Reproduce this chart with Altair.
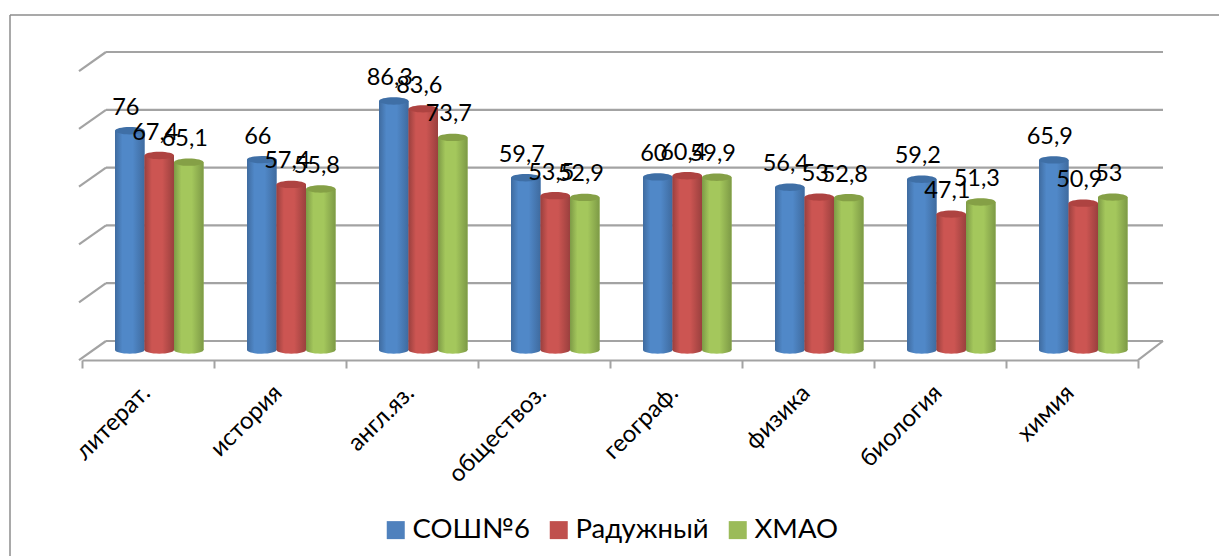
import altair as alt
import pandas as pd

categories = ["литерат.", "история", "англ.яз.", "обществоз.", "географ.", "физика", "биология", "химия"]
series = ["СОШ№6", "Радужный", "ХМАО"]
school = [76, 66, 86.3, 59.7, 60, 56.4, 59.2, 65.9]
town = [67.4, 57.4, 83.6, 53.5, 60.4, 53, 47.1, 50.9]
region = [65.1, 55.8, 73.7, 52.9, 59.9, 52.8, 51.3, 53]
grid_values = [0, 20, 40, 60, 80, 100]

colors = ["#4F81BD", "#C0504D", "#9BBB59"]
edges = ["#3F6B9F", "#9A403E", "#7D9A46"]
lights = ["#5088C8", "#CC5552", "#A4C75C"]
caps = ["#3F6FA6", "#AE4341", "#85A046"]

FONT = "Lato"
GREY = "#A3A3A3"
ELLIPSE = "M-1,0A1,0.25 0 1 1 1,0A1,0.25 0 1 1 -1,0Z"

rows = []
for name, vals in zip(series, [school, town, region]):
    for c, v in zip(categories, vals):
        rows.append({"cat": c, "series": name, "v": v, "label": f"{v:g}".replace(".", ",")})
df = pd.DataFrame(rows)
grid_df = pd.DataFrame({"g": grid_values})

bar_x = alt.X("cat:N", sort=categories, axis=None,
              scale=alt.Scale(domain=categories, range=[85, 1141], paddingInner=0, paddingOuter=0))
bar_off = alt.XOffset("series:N", sort=series,
                      scale=alt.Scale(domain=series, range=[22, 110.5]))
bar_y = alt.Y("v:Q", axis=None, scale=alt.Scale(domain=[0, 100], range=[342, 53.5], nice=False))
grid_y = alt.Y("g:Q", axis=None, scale=alt.Scale(domain=[0, 100], range=[333, 44], nice=False))

layers = []

# frame
layers.append(alt.Chart(grid_df.head(1)).mark_rule(color="#8C8C8C", strokeWidth=1.5).encode(
    x=alt.value(2), x2=alt.value(1211), y=alt.value(7)))
layers.append(alt.Chart(grid_df.head(1)).mark_rule(color="#8C8C8C", strokeWidth=1.5).encode(
    x=alt.value(2), y=alt.value(7), y2=alt.value(548)))

# back wall gridlines
layers.append(alt.Chart(grid_df).mark_rule(color=GREY, strokeWidth=2.2).encode(
    y=grid_y, x=alt.value(98), x2=alt.value(1155)))
# left wall
layers.append(alt.Chart(grid_df).transform_calculate(front="datum.g - 6.6").mark_rule(color=GREY, strokeWidth=2.2).encode(
    y=grid_y, y2="front:Q", x=alt.value(98), x2=alt.value(71)))
# right floor edge
layers.append(alt.Chart(grid_df.head(1)).transform_calculate(front="datum.g - 6.6").mark_rule(color=GREY, strokeWidth=2.2).encode(
    y=grid_y, y2="front:Q", x=alt.value(1155), x2=alt.value(1130)))

# category axis on the front edge of the floor
layers.append(alt.Chart(df).mark_rule(opacity=0).encode(
    x=alt.X("cat:N", sort=categories,
            scale=alt.Scale(domain=categories, range=[74, 1130], paddingInner=0, paddingOuter=0),
            axis=alt.Axis(title=None, tickBand="extent", tickSize=8, tickWidth=2, tickColor=GREY,
                          domainColor=GREY, domainWidth=2.2, labelAngle=-45, labelAlign="right",
                          labelBaseline="middle", labelFont=FONT, labelFontSize=24, labelColor="black",
                          labelOffset=-2, labelPadding=21, grid=False))))

# flat bars carrying the legend
layers.append(alt.Chart(df).mark_bar().encode(
    x=bar_x, xOffset=bar_off, y=bar_y,
    color=alt.Color("series:N", sort=series,
                    scale=alt.Scale(domain=series, range=colors),
                    legend=alt.Legend(title=None, orient="none", legendX=374, legendY=508,
                                      direction="horizontal", symbolType="square", symbolSize=324,
                                      symbolStrokeWidth=0, labelFont=FONT, labelFontSize=27.5,
                                      labelColor="black", columnPadding=15, labelOffset=3))))

# cylinders
for name, edge, light, cap in zip(series, edges, lights, caps):
    grad = alt.Gradient(gradient="linear", x1=0, x2=1, y1=0, y2=0,
                        stops=[alt.GradientStop(offset=0, color=edge),
                               alt.GradientStop(offset=0.25, color=light),
                               alt.GradientStop(offset=0.6, color=light),
                               alt.GradientStop(offset=1, color=edge)])
    sub = alt.Chart(df).transform_filter(alt.datum.series == name)
    layers.append(sub.transform_calculate(base="0").mark_point(
        shape=ELLIPSE, size=870, filled=True, opacity=1, color=grad).encode(
        x=bar_x, xOffset=bar_off,
        y=alt.Y("base:Q", axis=None, scale=alt.Scale(domain=[0, 100], range=[342, 53.5], nice=False))))
    layers.append(sub.mark_bar(color=grad).encode(x=bar_x, xOffset=bar_off, y=bar_y))
    layers.append(sub.mark_point(shape=ELLIPSE, size=870, filled=True, opacity=1, color=cap).encode(
        x=bar_x, xOffset=bar_off, y=bar_y))

# value labels
layers.append(alt.Chart(df).mark_text(font=FONT, fontSize=23.5, color="black", dx=-4, dy=-23,
                                      baseline="middle", align="center").encode(
    x=bar_x, xOffset=bar_off, y=bar_y, text="label:N"))

chart = alt.layer(*layers).resolve_scale(x="independent", y="independent").properties(
    width=1211, height=352,
    autosize=alt.AutoSizeParams(type="none"),
    padding={"left": 0, "top": 0, "right": 0, "bottom": 196},
    background="white",
).configure_view(stroke=None)

chart.save("out.html", embed_options={"renderer": "svg", "actions": False})
